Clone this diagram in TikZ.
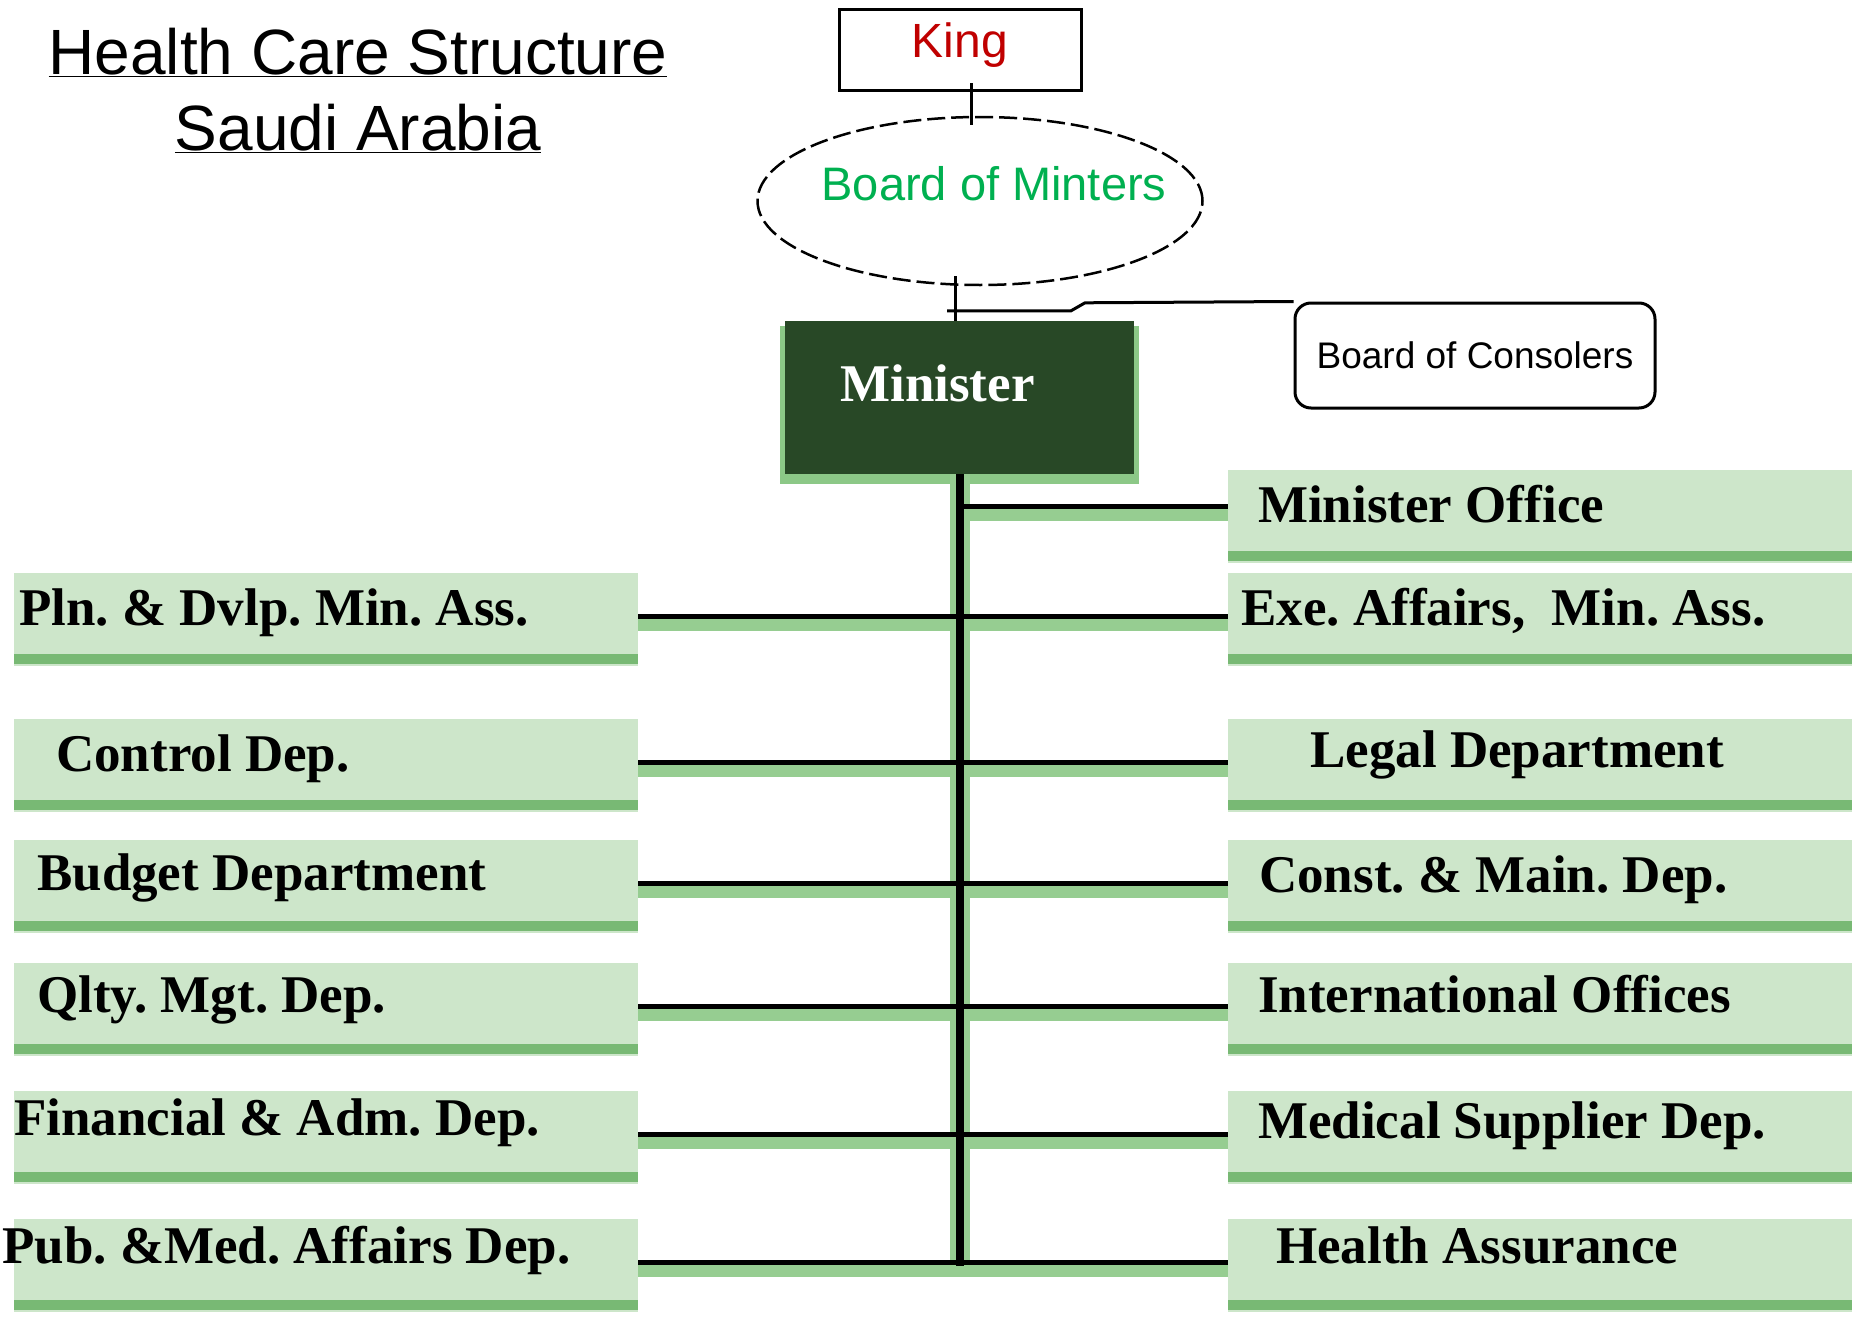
\documentclass[tikz,border=0pt]{standalone}
\usepackage{fontspec}
\setmainfont{Liberation Serif}
\setsansfont{Liberation Sans}
\usetikzlibrary{shapes.geometric, shadows}
\frenchspacing

\definecolor{kingred}{RGB}{192,0,0}
\definecolor{boardgreen}{RGB}{0,176,80}
\definecolor{mindark}{RGB}{40,72,38}
\definecolor{minshade}{RGB}{140,200,135}
\definecolor{deptbody}{RGB}{205,230,202}
\definecolor{deptbar}{RGB}{120,185,116}
\definecolor{linkgreen}{RGB}{150,205,145}

\begin{document}
\begin{tikzpicture}[x=1pt, y=-1pt,
  tie/.style={draw, line width=3pt},
  title/.style={font=\sffamily\fontsize{64}{76}\selectfont, align=center, inner sep=0pt, anchor=north},
  king/.style={draw, line width=3pt, minimum width=242pt, minimum height=81pt, inner sep=0pt},
  kingtext/.style={text=kingred, font=\sffamily\fontsize{48}{56}\selectfont, inner sep=0pt, text height=34pt, text depth=0pt, yshift=10pt},
  board/.style={ellipse, draw, dashed, dash pattern=on 18pt off 6pt, line width=2.5pt, minimum width=445pt, minimum height=168pt, inner sep=0pt},
  boardtext/.style={text=boardgreen, font=\sffamily\fontsize{47}{54}\selectfont, inner sep=0pt, text height=34pt, text depth=0pt, xshift=14pt, yshift=18pt},
  cons/.style={draw, line width=3pt, rounded corners=16pt, minimum width=360pt, minimum height=105pt, font=\sffamily\fontsize{37}{44}\selectfont},
  minister/.style={fill=mindark, minimum width=349pt, minimum height=153pt, inner sep=0pt,
    drop shadow={fill=minshade, opacity=1, shadow xshift=0pt, shadow yshift=-7pt, shadow scale=1.03}},
  mintext/.style={text=white, font=\bfseries\fontsize{53}{60}\selectfont, inner sep=0pt, text height=35pt, text depth=0pt, xshift=-22pt, yshift=13.5pt},
  dept/.style={rectangle, fill=deptbody, minimum width=624pt, minimum height=93pt, inner sep=0pt, anchor=north west,
    path picture={\fill[deptbar] ([yshift=2pt]path picture bounding box.south west) rectangle ([yshift=12pt]path picture bounding box.south east);}},
  depttext/.style={font=\bfseries\fontsize{53}{60}\selectfont, inner sep=0pt, text height=35pt, text depth=0pt, anchor=west, yshift=12pt},
  linkshade/.style={draw=linkgreen, line width=12pt},
  link/.style={draw=black, line width=5pt},
  trunk/.style={draw=black, line width=8pt}]

  \useasboundingbox (0,0) rectangle (1864,1317);

  \node[title] (head) at (358,28) {\underline{Health Care Structure}\\\underline{Saudi Arabia}};

  % top of the chart
  \node[king, label={[kingtext]center:King}] (king) at (960,50) {};
  \node[board, label={[boardtext]center:Board of Minters}] (board) at (980,201) {};
  \node[minister, label={[mintext]center:Minister}] (minister) at (959.5,397.5) {};
  \node[cons] (cons) at (1475,355.5) {Board of Consolers};

  % right column
  \node[dept, label={[depttext, xshift=30pt]west:Minister Office}] (office) at (1228,470) {};
  \node[dept, label={[depttext, xshift=13pt]west:{Exe. Affairs,\ \ Min. Ass.}}] (exe) at (1228,573) {};
  \node[dept, label={[depttext, xshift=82pt, yshift=4pt]west:Legal Department}] (legal) at (1228,719) {};
  \node[dept, label={[depttext, xshift=31pt]west:Const. \& Main. Dep.}] (const) at (1228,840) {};
  \node[dept, label={[depttext, xshift=30pt, yshift=3pt]west:International Offices}] (intl) at (1228,963) {};
  \node[dept, label={[depttext, xshift=30pt, yshift=5pt]west:Medical Supplier Dep.}] (med) at (1228,1091) {};
  \node[dept, label={[depttext, xshift=48pt, yshift=8pt]west:Health Assurance}] (health) at (1228,1219) {};

  % left column
  \node[dept, label={[depttext, xshift=5pt]west:Pln. \& Dvlp. Min. Ass.}] (pln) at (14,573) {};
  \node[dept, label={[depttext, xshift=42pt]west:Control Dep.}] (control) at (14,719) {};
  \node[dept, label={[depttext, xshift=23pt, yshift=2pt]west:Budget Department}] (budget) at (14,840) {};
  \node[dept, label={[depttext, xshift=23pt, yshift=3pt]west:Qlty. Mgt. Dep.}] (qlty) at (14,963) {};
  \node[dept, label={[depttext, xshift=0pt, yshift=8pt]west:Financial \& Adm. Dep.}] (fin) at (14,1091) {};
  \node[dept, label={[depttext, xshift=-12pt, yshift=8pt]west:Pub. \&Med. Affairs Dep.}] (pub) at (14,1219) {};

  \draw[tie] ([xshift=11pt,yshift=9pt]king.south) -- ++(0,42);
  \draw[tie] ([xshift=-25pt,yshift=10pt]board.south) -- ([xshift=-4.5pt]minister.north);
  \draw[tie] ([xshift=-12.5pt,yshift=10pt]minister.north) -- ++(124,0) -- ++(14,-8) -- (cons.north west);

  \draw[linkshade] ([xshift=4pt]minister.south) |- ([yshift=2pt]office.west);
  \foreach \d in {exe, legal, const, intl, med, health}
    \draw[linkshade] ([xshift=4pt]minister.south) |- ([yshift=-5pt]\d.west);
  \foreach \d in {pln, control, budget, qlty, fin, pub}
    \draw[linkshade] ([xshift=-4pt]minister.south) |- ([yshift=-5pt]\d.east);
  \draw[link] (minister.south) |- ([yshift=10pt]office.west);
  \foreach \d in {exe, legal, const, intl, med, health}
    \draw[link] (minister.south) |- ([yshift=3pt]\d.west);
  \foreach \d in {pln, control, budget, qlty, fin, pub}
    \draw[link] (minister.south) |- ([yshift=3pt]\d.east);
  \draw[trunk] (minister.south) -- (minister.south |- pub.east);
\end{tikzpicture}
\end{document}
